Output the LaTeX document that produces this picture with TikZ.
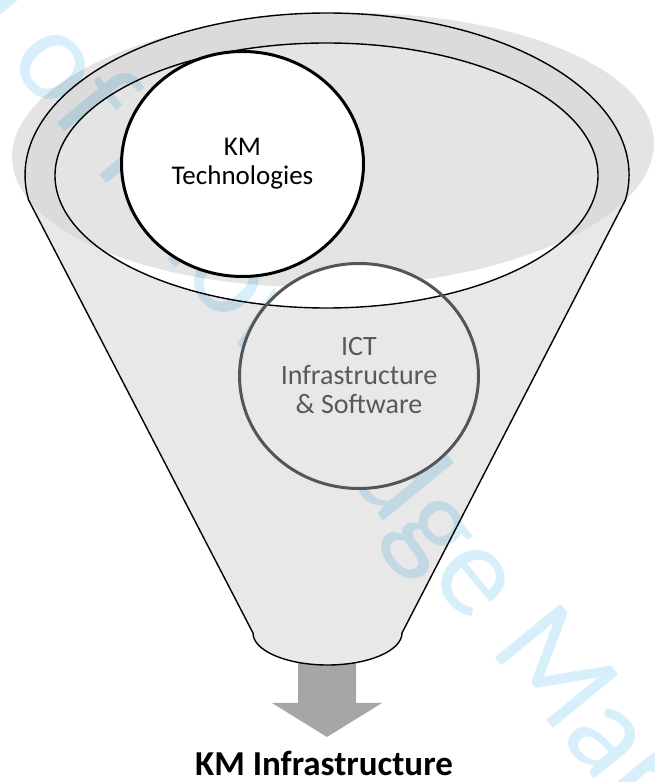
\documentclass[tikz,border=0pt]{standalone}
\usepackage{fontspec}
\setmainfont{Carlito}
\usetikzlibrary{shapes.geometric,calc}
\definecolor{bodyc}{HTML}{E8E8E8}
\definecolor{bandc}{HTML}{DBDBDB}
\definecolor{shadc}{HTML}{E4E4E4}
\definecolor{ictc}{HTML}{555555}
\definecolor{icttext}{HTML}{595959}
\definecolor{arrowc}{HTML}{A6A6A6}
\definecolor{wmc}{HTML}{D6EFFB}
\begin{document}
\begin{tikzpicture}[x=1pt,y=1pt,
  outline/.style={draw=black,line width=1.4pt},
  kmbubble/.style={ellipse,draw=black,line width=3pt,fill=white,
    minimum width=242,minimum height=225,inner sep=0pt,align=center,
    font=\fontsize{27}{29}\selectfont},
  ictbubble/.style={ellipse,draw=ictc,line width=3pt,
    minimum width=239,minimum height=225,inner sep=0pt,align=center,
    text=icttext,font=\fontsize{28}{29}\selectfont},
  outlabel/.style={anchor=base,inner sep=0pt,font=\bfseries\fontsize{35}{40}\selectfont},
  watermark/.style={text=wmc,anchor=base west,inner sep=0pt,rotate=-50.7,
    font=\fontsize{132}{140}\selectfont}]
\useasboundingbox (0,0) rectangle (654,782);
\clip (0,0) rectangle (654,782);
% saved shapes
\path[save path=\shadp, rotate around={1.5:(333,632)}] (333,632) ellipse [x radius=321, y radius=137];
\path[save path=\funp] (28.6,582) -- (253,149)
  arc[start angle=180,end angle=360,x radius=74.5,y radius=32]
  -- (625.4,582)
  arc[start angle=-8.877,end angle=188.877,x radius=302,y radius=162] -- cycle;
\path[save path=\innp] (326.5,606.5) ellipse [x radius=271.5, y radius=132.5];
\path[save path=\ictp] (359,406) ellipse [x radius=119.5, y radius=112.5];
% shadow
\fill[shadc, use path=\shadp];
% arrow (behind funnel)
\coordinate (abase) at (327,130);
\coordinate (atip) at (327,45);
\fill[arrowc] ($(abase)+(-29,0)$) -- ($(atip)+(-29,34)$) -- ($(atip)+(-55,34)$)
  -- (atip) -- ($(atip)+(55,34)$) -- ($(atip)+(29,34)$) -- ($(abase)+(29,0)$) -- cycle;
% funnel body
\fill[bodyc, use path=\funp];
\begin{scope}
  \clip[use path=\shadp];
  \fill[bandc, use path=\funp];
\end{scope}
\fill[white, use path=\innp];
\begin{scope}
  \clip[use path=\shadp];
  \fill[shadc, use path=\innp];
\end{scope}
\begin{scope}
  \clip[use path=\ictp];
  \fill[white, use path=\innp];
\end{scope}
\draw[outline, use path=\funp];
\draw[outline, use path=\innp];
% watermark (hidden by the bubbles)
\begin{scope}[even odd rule]
  \clip (0,0) rectangle (654,782) (359,406) ellipse [x radius=121, y radius=114];
  \begin{scope}[blend mode=multiply]
    \node[watermark] (wm) at (6.2,721.5) {\llap{Journal }of Knowledge Management};
  \end{scope}
\end{scope}
% bubbles
\node[kmbubble] (km) at (242.5,618) {KM\\Technologies};
\node[ictbubble] (ict) at (359,406) {ICT\\Infrastructure\\\& Software};
% output label
\node[outlabel] (kmi) at (324,6) {KM Infrastructure};
\end{tikzpicture}
\end{document}
